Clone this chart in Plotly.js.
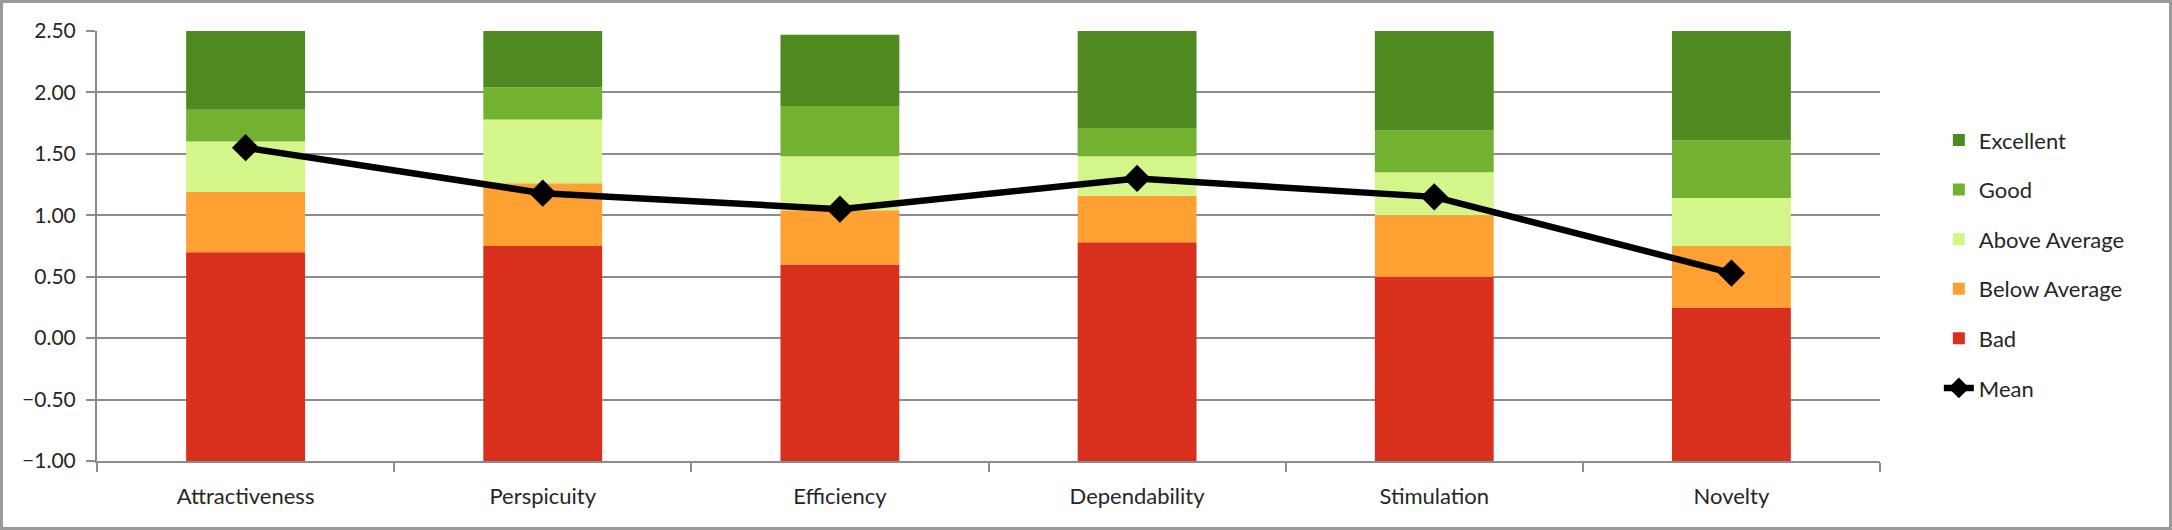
<!DOCTYPE html>
<html>
<head>
<meta charset="utf-8">
<script src="https://cdn.plot.ly/plotly-3.0.1.min.js"></script>
<style>
  html, body { margin: 0; padding: 0; background: #fff; }
  #chart {
    width: 2172px; height: 530px;
    box-sizing: border-box;
    border: 3px solid #9a9a9a;
  }
</style>
</head>
<body>
<div id="chart"></div>
<script>
  /* =========================
     DATA
  ========================= */
  const categories = ["Attractiveness", "Perspicuity", "Efficiency", "Dependability", "Stimulation", "Novelty"];

  // upper bound of each benchmark band (bars start at the axis minimum, -1)
  const axisMin = -1;
  const badTop       = [0.70, 0.75, 0.60, 0.78, 0.50, 0.25];
  const belowAvgTop  = [1.19, 1.26, 1.04, 1.16, 1.00, 0.75];
  const aboveAvgTop  = [1.60, 1.78, 1.48, 1.48, 1.35, 1.14];
  const goodTop      = [1.86, 2.04, 1.89, 1.71, 1.69, 1.61];
  const excellentTop = [2.50, 2.50, 2.47, 2.50, 2.50, 2.50];

  const meanValues = [1.55, 1.18, 1.05, 1.30, 1.15, 0.53];

  const yTicks = [-1, -0.5, 0, 0.5, 1, 1.5, 2, 2.5];

  /* =========================
     TRACES
  ========================= */
  const bands = [
    { name: "Bad",           lower: categories.map(() => axisMin), upper: badTop,       color: "#D9301E", rank: 5 },
    { name: "Below Average", lower: badTop,                         upper: belowAvgTop,  color: "#FFA033", rank: 4 },
    { name: "Above Average", lower: belowAvgTop,                    upper: aboveAvgTop,  color: "#D4F58A", rank: 3 },
    { name: "Good",          lower: aboveAvgTop,                    upper: goodTop,      color: "#73B230", rank: 2 },
    { name: "Excellent",     lower: goodTop,                        upper: excellentTop, color: "#4E8A20", rank: 1 }
  ];

  const traces = bands.map(b => ({
    type: "bar",
    name: b.name,
    x: categories,
    base: b.lower,
    y: b.upper.map((u, i) => u - b.lower[i]),
    width: 0.4,
    marker: { color: b.color, line: { width: 0 } },
    legendrank: b.rank,
    legendgroup: b.name,
    hoverinfo: "skip"
  }));

  traces.push({
    type: "scatter",
    mode: "lines+markers",
    name: "Mean",
    x: categories,
    y: meanValues,
    line: { color: "#000", width: 6.5 },
    marker: { symbol: "diamond", size: 21, color: "#000" },
    legendrank: 6,
    legendgroup: "Mean"
  });

  /* =========================
     LAYOUT
  ========================= */
  const family = "Lato, 'Open Sans', sans-serif";
  const textColor = "#262626";

  const layout = {
    width: 2166,
    height: 524,
    margin: { l: 94, r: 289, t: 28, b: 66 },
    paper_bgcolor: "#fff",
    plot_bgcolor: "#fff",
    font: { family: family, size: 21, color: textColor },
    barmode: "overlay",
    showlegend: true,
    legend: {
      x: 1.033, xanchor: "left",
      y: 0.795, yanchor: "top",
      font: { family: family, size: 22, color: textColor },
      tracegroupgap: 18,
      bgcolor: "rgba(0,0,0,0)"
    },
    xaxis: {
      type: "category",
      tickson: "boundaries",
      ticks: "outside",
      ticklen: 9,
      tickwidth: 2,
      tickcolor: "#8c8c8c",
      showline: true,
      linecolor: "#8c8c8c",
      linewidth: 2,
      showgrid: false,
      tickfont: { family: family, size: 22, color: textColor },
      ticklabelstandoff: 15,
      fixedrange: true
    },
    yaxis: {
      range: [axisMin, 2.5],
      tickvals: yTicks,
      tickformat: ".2f",
      ticks: "outside",
      ticklen: 9,
      tickwidth: 2,
      tickcolor: "#8c8c8c",
      showline: true,
      linecolor: "#8c8c8c",
      linewidth: 2,
      showgrid: true,
      gridcolor: "#8c8c8c",
      gridwidth: 2,
      zeroline: false,
      ticklabelstandoff: 6,
      fixedrange: true
    }
  };

  Plotly.newPlot("chart", traces, layout, { displayModeBar: false, staticPlot: true });
</script>
</body>
</html>
